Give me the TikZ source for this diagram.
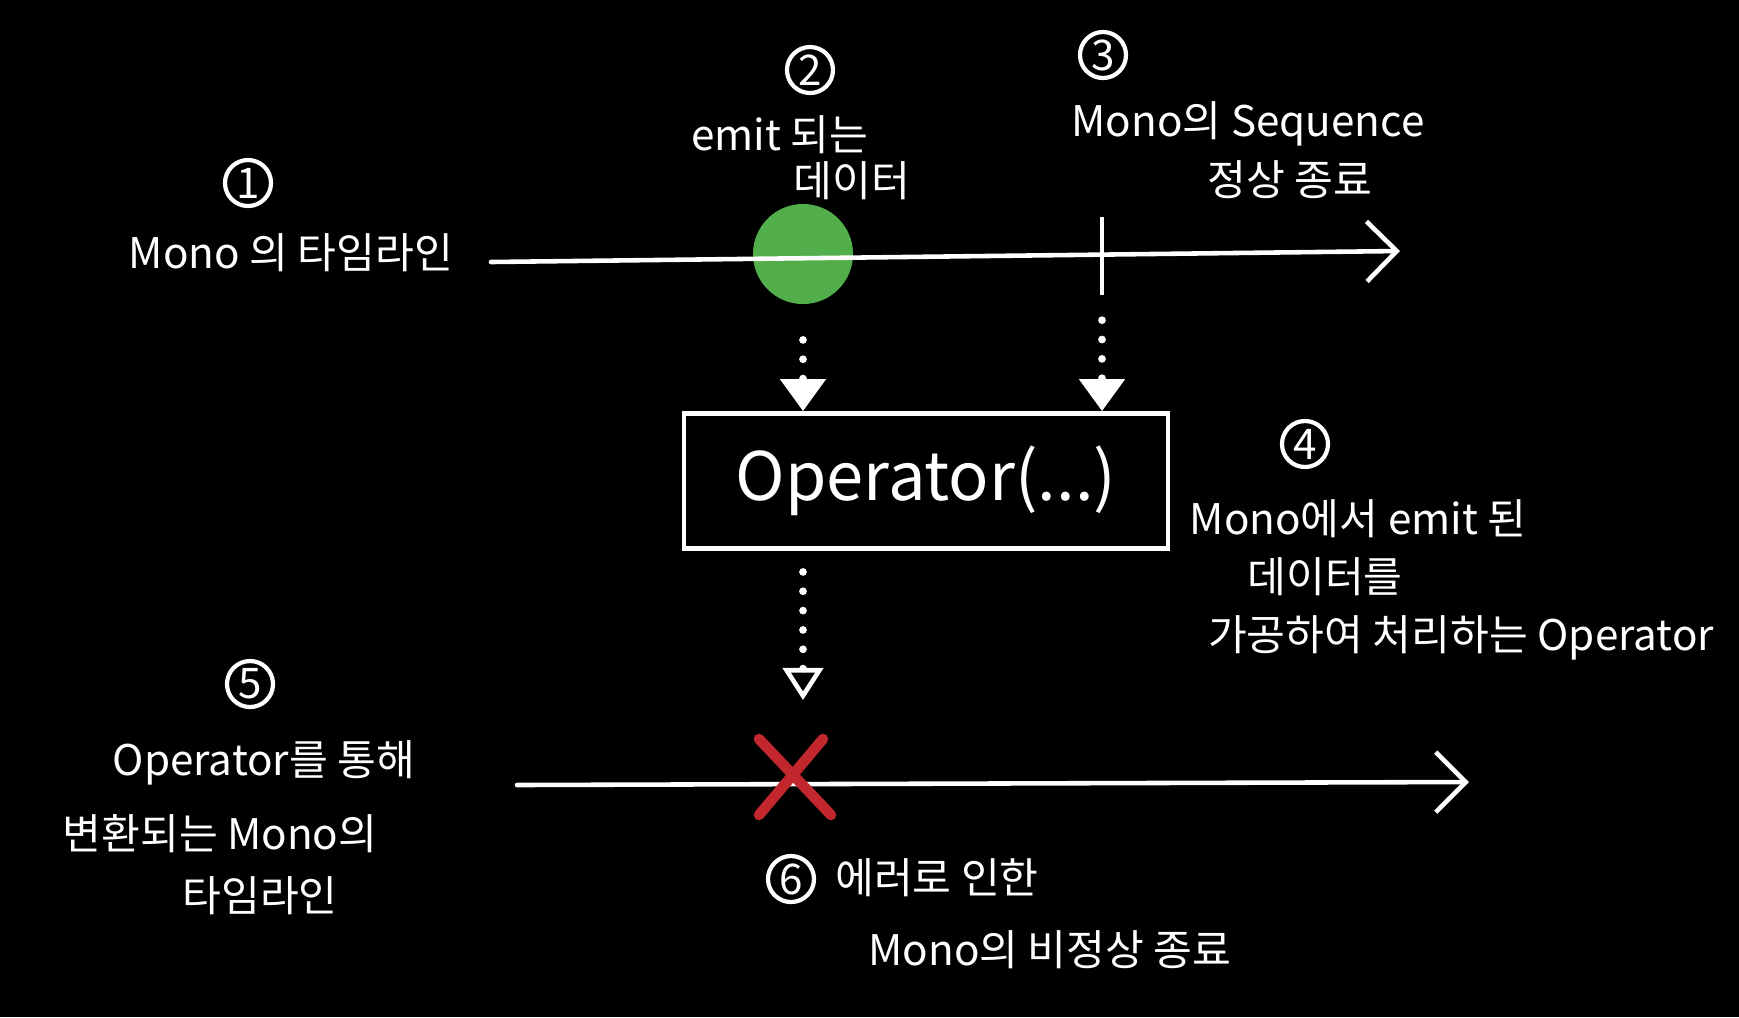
\documentclass[tikz,border=0pt]{standalone}
\usepackage{fontspec}
\setmainfont{Noto Sans CJK KR}
\usepackage{tikz}
\usetikzlibrary{arrows.meta,positioning}
\definecolor{emitgreen}{HTML}{52AE4A}
\definecolor{errred}{HTML}{C1272D}
\tikzset{
  note/.style={
    text=white,
    align=center,
    font=\fontsize{12}{14}\selectfont,
    inner sep=0pt
  },
  stepnum/.style={
    draw=white,
    circle,
    line width=1.2pt,
    text=white,
    minimum size=0.46cm,
    inner sep=0pt,
    font=\fontsize{12}{12}\selectfont
  },
  timeline/.style={
    draw=white,
    line width=1.3pt,
    line cap=round,
    -{Straight Barb[length=3mm,width=6mm,line width=1.3pt]}
  },
  dotflow/.style={
    draw=white,
    line width=2.2pt,
    line cap=round,
    dash pattern=on 0pt off 5.5pt,
    shorten <=10pt
  },
  opbox/.style={
    draw=white,
    line width=1.3pt,
    text=white,
    minimum width=4.84cm,
    minimum height=1.35cm,
    font=\fontsize{19}{19}\selectfont
  }
}
\begin{document}
\begin{tikzpicture}[x=0.01cm,y=-0.01cm]
    \fill[black] (0,0) rectangle (1739,1017);
    \useasboundingbox (0,0) rectangle (1739,1017);

    % upper timeline
    \coordinate (monostart) at (491,262);
    \coordinate (monoend) at (1400,251);
    \coordinate (complete) at (1102,255);
    \node[circle, fill=emitgreen, minimum size=1.0cm, inner sep=0pt] (emit) at (803,254) {};
    \draw[timeline] (monostart) -- (monoend);
    \draw[white, line width=1.3pt] ([shift={(0,-38)}]complete) -- ([shift={(0,40)}]complete);

    % operator
    \node[opbox] (op) at (926,481) {Operator(...)};
    \draw[dotflow, -{Triangle[length=3.2mm,width=4.4mm]}] (emit.south) -- (emit.south |- op.north);
    \draw[dotflow, -{Triangle[length=3.2mm,width=4.4mm]}] ([shift={(0,30)}]complete) -- (complete |- op.north);

    % lower timeline
    \coordinate (newstart) at (517,785);
    \coordinate (newend) at (1469,782);
    \coordinate (err) at (793,777);
    \coordinate (errtop) at (803,700);
    \draw[timeline] (newstart) -- (newend);
    \draw[dotflow, -{Triangle[open,length=3.2mm,width=4.0mm,line width=1.3pt]}, shorten <=6pt] (op.south -| errtop) -- (errtop);
    \draw[errred, line width=3pt, line cap=round] ([shift={(-34,-38)}]err) -- ([shift={(38,38)}]err);
    \draw[errred, line width=3pt, line cap=round] ([shift={(30,-38)}]err) -- ([shift={(-34,38)}]err);

    % labels
    \node[stepnum] (n1) at (248,183) {1};
    \node[note] (l1) at (291,253) {Mono 의 타임라인};
    \node[stepnum] (n2) at (810,70) {2};
    \node[note] (l2a) at (780,135) {emit 되는};
    \node[note] (l2b) at (852,181) {데이터};
    \node[stepnum] (n3) at (1103,55) {3};
    \node[note] (l3a) at (1248,124) {Mono의 Sequence};
    \node[note] (l3b) at (1290,180) {정상 종료};
    \node[stepnum] (n4) at (1305,444) {4};
    \node[note] (l4a) at (1358,519) {Mono에서 emit 된};
    \node[note] (l4b) at (1325,577) {데이터를};
    \node[note] (l4c) at (1461,638) {가공하여 처리하는 Operator};
    \node[stepnum] (n5) at (250,684) {5};
    \node[note] (l5a) at (264,763) {Operator를 통해};
    \node[note] (l5b) at (220,834) {변환되는 Mono의};
    \node[note] (l5c) at (260,896) {타임라인};
    \node[stepnum] (n6) at (791,879) {6};
    \node[note] (l6a) at (937,878) {에러로 인한};
    \node[note] (l6b) at (1050,950) {Mono의 비정상 종료};
\end{tikzpicture}
\end{document}
